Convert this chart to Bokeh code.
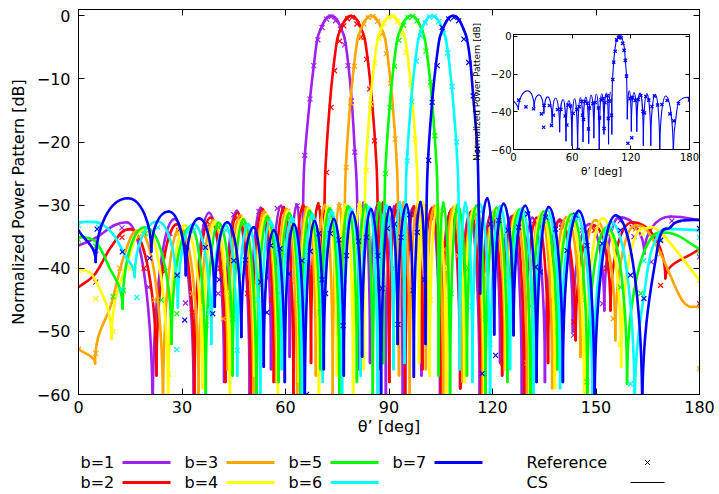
from bokeh.plotting import figure
from bokeh.models import Range1d, LinearAxis, FixedTicker, ColumnDataSource, CustomJSTickFormatter
from bokeh.layouts import column
from bokeh.embed import file_html
from bokeh.resources import INLINE
from bokeh.core.properties import value

# ---------------- data ----------------
x_ticks = [0, 30, 60, 90, 120, 150, 180]
y_ticks = [-60, -50, -40, -30, -20, -10, 0]
inset_x_ticks = [0, 60, 120, 180]
inset_y_ticks = [-60, -40, -20, 0]

legend_labels = ["b=1", "b=2", "b=3", "b=4", "b=5", "b=6", "b=7"]
colors = ["#a020f0", "#ff0000", "#ffa500", "#ffff00", "#00ff00", "#00ffff", "#0000ff"]

# CS curves: vertices (peaks, nulls and flank points) in degrees / dB
theta_b1 = [0, 5.0, 10.0, 14.0, 21.5, 27.8, 33.4, 37.8, 42.2, 45.9, 49.6, 52.8, 55.8, 58.7, 61.2, 63.3,
            64.7, 65.1, 65.6, 67.1, 68.2, 69.2, 70.2, 71.2, 72.2, 73.2, 74.2, 75.2, 76.2, 77.2, 78.2, 79.2, 80.1, 80.8, 81.2,
            82.6, 84.5, 86.6, 89.1, 91.5, 94.0, 96.8, 99.4, 102.3, 104.8, 107.8, 110.6, 113.4, 116.3, 119.5, 122.2,
            125.5, 128.5, 131.5, 135.2, 139.5, 143.3, 148.1, 152.4, 156.8, 164.0, 171.6, 180]
db_b1 = [-36.4, -35.2, -33.3, -32.7, -64, -32.2, -62, -31.2, -58, -30.9, -61, -30.4, -56, -30.1, -54, -29.9,
         -55, -30.0, -22.2, -13.2, -7.9, -3.7, -2.1, -0.9, -0.2, 0, -0.2, -0.9, -2.1, -3.7, -7.7, -13.5, -21.6, -30.0, -56,
         -29.6, -55, -30.0, -60, -30.2, -63, -30.5, -57, -30.8, -62, -31.0, -59, -31.3, -64, -31.5, -55,
         -31.8, -61, -32.0, -58, -32.3, -50, -33.0, -46.7, -31.9, -37.7, -31.8, -32.4]

theta_b2 = [0, 4.8, 9.6, 15.0, 22.6, 28.6, 33.6, 38.2, 42.6, 46.1, 50.0, 53.3, 56.6, 59.5, 62.3, 65.1, 67.4, 69.5,
            71.0, 71.3, 71.8, 73.0, 74.0, 75.0, 76.0, 77.0, 78.0, 79.0, 80.0, 81.0, 82.0, 83.0, 84.0, 85.0, 86.2, 86.7, 87.0,
            88.2, 90.1, 92.2, 94.7, 97.2, 99.7, 102.5, 105.1, 108.1, 110.7, 113.8, 116.7, 119.7, 122.8, 126.2, 129.2,
            132.8, 136.1, 139.5, 144.1, 149.4, 154.2, 160.5, 170.1, 180]
db_b2 = [-43.0, -40.9, -36.5, -33.8, -57, -33.0, -60, -32.0, -58, -31.2, -63, -30.6, -58, -30.3, -61, -30.0, -55, -29.7,
         -55, -30.0, -22, -13, -7.7, -3.7, -2.1, -0.9, -0.2, 0, -0.2, -0.9, -2.1, -3.7, -7.7, -13, -22, -30.0, -56,
         -29.6, -58, -29.9, -63, -30.2, -56, -30.4, -61, -30.7, -59, -31.0, -64, -31.3, -57, -31.6, -62,
         -32.0, -55, -32.4, -51.4, -33.2, -46.7, -32.7, -41.6, -36.9]

theta_b3 = [0, 4.8, 9.6, 13.5, 17.5, 24.5, 29.4, 34.8, 39.1, 43.2, 47.0, 50.7, 53.8, 57.3, 60.3, 63.4, 66.2, 68.8, 71.4, 73.7, 75.6,
            76.9, 77.2, 77.7, 78.9, 79.9, 80.9, 81.9, 82.9, 83.9, 84.9, 85.9, 86.9, 87.9, 88.9, 89.9, 90.9, 92.1, 92.6, 92.9,
            94.1, 96.0, 98.2, 100.7, 103.2, 105.7, 108.6, 111.3, 114.5, 117.2, 120.4, 123.6, 126.8, 130.1, 134.0, 137.3,
            141.5, 145.5, 149.8, 155.6, 161.5, 167.7, 175.0, 180]
db_b3 = [-52.8, -55.1, -45.5, -37.5, -34.0, -63, -33.5, -61, -32.4, -56, -31.6, -62, -31.0, -58, -30.6, -64, -30.3, -57, -30.0, -60, -29.7,
         -55, -30.0, -22, -13, -7.7, -3.7, -2.1, -0.9, -0.2, 0, -0.2, -0.9, -2.1, -3.7, -7.7, -13, -22, -30.0, -57,
         -29.6, -60, -29.9, -56, -30.1, -63, -30.3, -58, -30.6, -61, -30.9, -56, -31.2, -64, -31.5, -59,
         -31.9, -54, -32.4, -51.4, -33.2, -36.6, -45.1, -46.2]

theta_b4 = [0, 4.8, 9.6, 14.5, 19.5, 26.0, 30.8, 35.9, 39.6, 43.9, 47.5, 51.0, 54.4, 57.8, 60.6, 63.9, 66.7, 69.7, 72.3, 74.9, 77.4, 79.6, 81.5,
            82.7, 83.0, 83.5, 84.7, 85.7, 86.7, 87.7, 88.7, 89.7, 90.7, 91.7, 92.7, 93.7, 94.7, 95.7, 96.7, 97.9, 98.4, 98.7,
            99.9, 101.8, 104.0, 106.6, 109.2, 111.8, 114.8, 117.6, 120.9, 123.9, 127.3, 130.8, 134.3, 138.1, 142.6, 146.6,
            151.9, 157.3, 163.5, 168.7, 180]
db_b4 = [-40.0, -41.8, -51.2, -38.5, -33.8, -62, -33.2, -59, -32.6, -63, -32.0, -57, -31.4, -62, -30.9, -58, -30.5, -64, -30.2, -57, -29.9, -60, -29.6,
         -56, -30.0, -22, -13, -7.7, -3.7, -2.1, -0.9, -0.2, 0, -0.2, -0.9, -2.1, -3.7, -7.7, -13, -22, -30.0, -55,
         -29.6, -57, -29.9, -62, -30.1, -58, -30.4, -63, -30.6, -56, -30.9, -61, -31.2, -59, -31.6, -64,
         -32.1, -55.6, -33.7, -34.3, -41.9]

theta_b5 = [0, 4.8, 8.6, 12.8, 19.3, 27.0, 32.6, 36.9, 40.6, 44.7, 47.8, 51.6, 54.8, 58.0, 61.1, 64.3, 67.0, 70.1, 72.8, 75.6, 78.2, 80.7, 83.2, 85.3, 87.2,
            88.4, 88.7, 89.2, 90.4, 91.4, 92.4, 93.4, 94.4, 95.4, 96.4, 97.4, 98.4, 99.4, 100.4, 101.4, 102.4, 103.6, 104.1, 104.4,
            105.7, 107.7, 109.9, 112.6, 115.3, 118.0, 121.2, 124.3, 127.8, 131.0, 134.8, 138.8, 143.0, 147.5, 153.2, 159.0, 168.7, 180]
db_b5 = [-35.0, -35.7, -39.5, -46.4, -33.5, -52, -33.4, -60, -32.8, -57, -32.3, -63, -31.8, -58, -31.3, -62, -30.9, -56, -30.5, -61, -30.2, -58, -29.9, -63, -29.6,
         -55, -30.0, -22, -13, -7.7, -3.7, -2.1, -0.9, -0.2, 0, -0.2, -0.9, -2.1, -3.7, -7.7, -13, -22, -30.0, -57,
         -29.6, -62, -29.9, -57, -30.1, -61, -30.4, -58, -30.7, -64, -31.0, -56, -31.4, -60, -33.5, -58.3, -34.3, -36.9]

theta_b6 = [0, 5.8, 10.0, 13.5, 16.3, 23.0, 28.8, 33.4, 38.5, 42.7, 46.0, 49.2, 52.7, 55.5, 58.9, 61.9, 64.8, 67.8, 70.8, 73.4, 76.4, 79.0, 81.8, 84.3, 86.7, 89.2, 91.3, 93.2,
            94.5, 94.8, 95.3, 96.5, 97.5, 98.5, 99.5, 100.5, 101.5, 102.5, 103.5, 104.5, 105.5, 106.5, 107.5, 108.5, 109.7, 110.2, 110.5,
            112.1, 114.2, 116.5, 119.3, 122.2, 125.1, 128.6, 131.9, 135.9, 139.6, 144.2, 149.0, 154.4, 161.2, 164.5, 167.7, 172.0, 180]
db_b6 = [-32.7, -32.8, -34.6, -38.0, -41.4, -32.6, -46.2, -33.0, -52, -33.2, -57, -33.0, -61, -32.5, -56, -32.0, -63, -31.5, -58, -31.0, -62, -30.6, -57, -30.3, -61, -30.0, -56, -29.6,
         -55, -30.0, -22, -13, -7.7, -3.7, -2.1, -0.9, -0.2, 0, -0.2, -0.9, -2.1, -3.7, -7.7, -13, -22, -30.0, -56,
         -29.6, -58, -29.9, -63, -30.2, -56, -30.5, -61, -30.8, -59, -31.3, -64, -32.7, -63, -42, -35.0, -33.8, -34.0]

theta_b7 = [0, 5.0, 14.3, 21.1, 26.1, 31.1, 35.0, 39.5, 43.1, 47.2, 50.8, 53.7, 56.6, 59.8, 62.4, 65.6, 68.4, 71.1, 74.0, 76.9,
            79.3, 82.2, 84.8, 87.7, 90.2, 92.5, 95.1, 97.2, 99.1, 100.6,
            100.9, 101.4, 102.6, 103.6, 104.6, 105.6, 106.6, 107.6, 108.6, 109.6, 110.6, 111.6, 112.6, 113.6, 114.4, 115.6, 116.0, 116.4,
            118.5, 120.5, 123.2, 126.1, 129.5, 132.8, 136.3, 140.4, 145.0, 149.6, 155.7, 163.4, 167.7, 171.6, 174.5, 180]
db_b7 = [-34.0, -39.0, -28.9, -37.4, -31.0, -41.1, -32.1, -46.1, -32.7, -50.9, -33.5, -55.6, -34.0, -58.0, -33.0, -63, -32.5, -56, -32.2, -57,
         -31.1, -54, -30.6, -63, -30.3, -52, -29.9, -57.2, -29.5, -52,
         -30.0, -22, -13, -7.7, -3.7, -2.1, -0.9, -0.2, 0, -0.2, -0.9, -2.1, -3.7, -7.4, -12.7, -21, -30.0, -44,
         -28.9, -50.5, -29.8, -50.6, -30.1, -58, -30.3, -58, -30.9, -63, -31.6, -63, -37.2, -33.5, -32.5, -32.3]

# Reference solution (x markers)
ref_theta_b1 = [5.0, 12.6, 20.3, 26.5, 31.0, 36.5, 40.5, 45.0, 48.5, 52.3, 55.0, 57.6, 60.5, 63.4, 64.6,
                65.6, 67.1, 68.2, 69.4, 70.6, 71.9, 73.2, 74.5, 75.9, 77.1, 78.1, 79.1, 80.1,
                82.3, 85.5, 88.0, 91.5, 95.0, 97.0, 101.0, 103.0, 106.0, 108.0, 112.0, 114.0, 117.5, 120.0, 124.0, 126.0,
                130.0, 132.0, 137.0, 140.0, 143.5, 146.0, 151.9, 157.0, 161.0, 166.0, 172.0, 180.0]
ref_db_b1 = [-37.2, -33.6, -43.0, -34.5, -45.5, -33.5, -44.0, -31.5, -40.0, -31.0, -41.5, -30.5, -38.0, -30.1, -36.0,
             -22.1, -13.2, -7.9, -3.8, -1.85, -0.53, -0.16, -0.79, -2.1, -4.6, -7.9, -13.5, -21.6,
             -31.0, -37.0, -33.0, -31.0, -40.0, -31.5, -36.0, -32.0, -45.0, -31.5, -38.0, -32.0, -48.0, -32.0, -35.0, -33.0,
             -44.0, -33.0, -36.0, -33.0, -50.6, -34.0, -45.6, -32.5, -35.0, -39.0, -32.5, -38.2]

ref_theta_b2 = [5.0, 12.6, 19.0, 25.0, 29.0, 33.0, 38.0, 41.0, 46.0, 49.0, 53.5, 56.0, 59.6, 63.0, 65.3, 68.0, 69.6,
                71.9, 73.2, 74.2, 75.7, 76.9, 78.0, 79.3, 80.7, 81.9, 83.5, 84.4, 85.8,
                88.5, 91.0, 92.4, 96.0, 97.5, 101.0, 102.8, 106.0, 108.0, 112.0, 114.0, 117.0, 120.0, 123.0, 126.5,
                131.0, 133.0, 137.0, 140.0, 143.5, 149.5, 153.0, 160.5, 168.7, 180.0]
ref_db_b2 = [-42.2, -35.1, -40.0, -40.5, -34.0, -47.0, -33.0, -40.0, -32.0, -44.0, -31.5, -45.0, -31.0, -42.0, -30.6, -40.0, -30.5,
             -24.8, -14.5, -8.7, -4.0, -1.6, -0.5, -0.26, -1.3, -3.4, -6.9, -11.6, -19.8,
             -31.0, -40.0, -31.0, -37.0, -31.5, -45.0, -31.5, -36.0, -31.5, -43.0, -32.0, -38.0, -32.0, -55.0, -32.5,
             -40.0, -33.0, -45.0, -33.5, -48.5, -34.0, -40.0, -33.5, -42.7, -45.6]

ref_theta_b3 = [0.0, 5.0, 12.0, 17.5, 22.0, 29.0, 33.0, 39.0, 42.0, 47.0, 52.0, 53.8, 59.0, 60.5, 64.0, 66.2, 70.0, 71.5, 75.6,
                77.6, 78.9, 80.0, 81.4, 82.7, 84.0, 85.3, 86.6, 87.9, 89.2, 90.5, 91.8,
                94.0, 97.0, 98.3, 101.0, 103.3, 106.0, 108.5, 110.0, 114.5, 118.0, 120.5, 124.0, 127.0, 130.0, 134.0,
                138.0, 141.5, 146.0, 150.0, 155.0, 161.5, 168.7, 180.0]
ref_db_b3 = [-52.8, -53.5, -40.0, -35.0, -45.0, -34.5, -44.0, -33.0, -48.0, -32.5, -42.0, -31.5, -38.0, -31.0, -44.0, -30.8, -42.0, -30.5, -30.2,
             -24.0, -13.8, -8.0, -3.4, -1.3, -0.3, -0.1, -0.9, -2.9, -6.0, -10.7, -19.5,
             -31.0, -43.0, -31.0, -40.0, -31.0, -37.0, -31.5, -38.0, -32.0, -45.0, -32.0, -40.0, -32.5, -55.0, -33.0,
             -44.0, -33.0, -45.0, -34.0, -48.0, -33.8, -37.7, -55.9]

ref_theta_b4 = [0.0, 5.0, 10.0, 15.0, 19.5, 26.1, 31.0, 36.0, 39.5, 44.0, 47.5, 51.0, 54.4, 58.0, 60.6, 64.0, 66.7, 70.0, 72.3, 75.0, 77.4, 81.5,
                83.4, 84.7, 85.9, 87.2, 88.5, 89.8, 91.1, 92.4, 93.7, 95.0, 96.3, 97.6,
                100.0, 102.0, 104.0, 107.0, 109.2, 112.0, 114.8, 117.6, 121.0, 124.0, 127.3, 131.0, 134.4, 138.0,
                142.6, 146.6, 152.0, 157.0, 163.5, 169.0, 180.0]
ref_db_b4 = [-40.4, -44.8, -50.0, -40.0, -34.5, -56.8, -34.0, -46.0, -33.0, -44.0, -32.5, -46.0, -32.0, -40.0, -31.5, -48.0, -31.0, -40.0, -30.8, -44.0, -30.5, -30.2,
             -24.5, -14.0, -7.5, -3.6, -1.2, -0.2, -0.1, -0.9, -2.9, -5.8, -10.8, -19.5,
             -31.0, -45.0, -31.0, -40.0, -31.0, -48.0, -31.5, -41.0, -31.5, -47.0, -32.0, -42.0, -32.5, -46.0,
             -33.0, -49.0, -34.0, -52.0, -34.5, -35.5, -41.9]

ref_theta_b5 = [0.0, 5.0, 10.0, 13.0, 19.3, 24.0, 28.5, 32.6, 37.0, 40.6, 44.7, 47.8, 52.0, 54.8, 58.0, 61.1, 64.0, 67.0, 70.0, 72.8, 76.0, 78.2, 81.0, 83.2, 87.2,
                89.0, 90.3, 91.6, 92.9, 94.2, 95.5, 96.8, 98.1, 99.4, 100.7, 102.0, 103.3,
                105.7, 108.0, 110.0, 113.0, 115.3, 118.0, 121.2, 124.0, 127.8, 131.0, 134.8, 139.0, 143.0, 147.4,
                153.2, 157.1, 163.0, 168.7, 180.0]
ref_db_b5 = [-35.5, -36.5, -44.5, -43.5, -34.5, -45.0, -47.2, -34.0, -49.0, -33.5, -48.0, -33.0, -42.0, -32.3, -44.0, -32.0, -45.0, -31.5, -47.0, -31.0, -40.0, -30.6, -44.0, -30.3, -30.0,
             -25.0, -14.5, -8.0, -3.9, -1.5, -0.3, -0.1, -0.8, -2.6, -5.6, -10.5, -19.0,
             -31.0, -44.0, -31.0, -40.0, -31.5, -48.0, -31.5, -42.0, -32.0, -46.0, -32.5, -50.0, -33.0, -58.0,
             -34.5, -43.0, -44.0, -35.5, -37.4]

ref_theta_b6 = [0.0, 5.8, 12.4, 16.9, 23.0, 28.5, 33.4, 38.0, 42.7, 46.0, 49.0, 52.0, 55.5, 59.0, 62.0, 65.0, 67.8, 71.0, 73.4, 76.4, 79.0, 82.0, 84.3, 87.0, 89.2, 93.2,
                95.3, 96.6, 97.9, 99.2, 100.5, 101.8, 103.1, 104.4, 105.7, 107.0, 108.3, 109.6,
                112.1, 114.0, 116.5, 119.3, 122.2, 125.0, 128.6, 132.0, 135.9, 140.0, 144.2, 148.9, 154.4, 160.0,
                163.9, 168.0, 180.0]
ref_db_b6 = [-33.2, -33.5, -43.4, -44.6, -33.5, -52.9, -34.0, -47.0, -34.0, -53.0, -33.5, -45.0, -33.0, -50.0, -32.5, -44.0, -32.0, -46.0, -31.5, -49.0, -31.0, -44.0, -30.8, -42.0, -30.5, -30.2,
             -23.0, -13.6, -7.2, -3.2, -1.1, -0.2, -0.1, -0.9, -2.8, -5.9, -11.2, -20.0,
             -31.0, -46.0, -31.0, -52.0, -31.5, -42.0, -31.5, -48.0, -32.0, -45.0, -32.0, -50.0, -33.5, -58.3,
             -38.8, -35.0, -35.1]

ref_theta_b7 = [5.4, 12.7, 20.6, 28.6, 30.8, 31.3, 36.8, 38.9, 40.8, 45.0, 48.4, 52.8, 54.6, 55.7, 58.4, 61.0, 64.8, 66.1, 67.2,
                69.7, 70.6, 71.6, 73.0, 75.5, 76.7, 77.7, 81.2, 83.5, 86.8, 88.0, 89.5, 91.6, 92.6, 93.5, 96.0, 97.0, 98.2, 100.3,
                101.5, 102.5, 104.0, 105.4, 107.3, 108.8, 110.2, 111.7, 113.1, 114.4, 115.6,
                117.0, 119.4, 120.9, 121.8, 124.5, 127.6, 130.2, 132.5, 133.9, 135.4, 138.3, 141.6, 144.1, 147.4,
                151.8, 157.1, 160.0, 163.9, 168.7, 180.0]
ref_db_b7 = [-33.8, -37.4, -38.4, -41.1, -48.2, -36.6, -36.7, -47.2, -41.8, -38.8, -38.7, -42.2, -47.0, -36.4, -36.9, -40.9, -38.8, -60.0, -37.3,
             -34.5, -41.8, -44.0, -34.5, -35.5, -49.1, -38.0, -35.7, -35.1, -38.0, -43.2, -33.7, -33.0, -48.9, -35.1, -31.5, -43.5, -34.3, -41.8,
             -22.9, -13.7, -7.9, -1.85, -0.5, -0.26, -0.79, -3.7, -7.4, -12.7, -21.1,
             -56.7, -33.0, -53.8, -32.4, -34.0, -33.5, -31.4, -39.8, -40.6, -31.9, -33.8, -37.2, -31.6, -36.4,
             -36.1, -34.0, -41.1, -44.8, -35.6, -33.7]

curves = [
    (theta_b1, db_b1, ref_theta_b1, ref_db_b1),
    (theta_b2, db_b2, ref_theta_b2, ref_db_b2),
    (theta_b3, db_b3, ref_theta_b3, ref_db_b3),
    (theta_b4, db_b4, ref_theta_b4, ref_db_b4),
    (theta_b5, db_b5, ref_theta_b5, ref_db_b5),
    (theta_b6, db_b6, ref_theta_b6, ref_db_b6),
    (theta_b7, db_b7, ref_theta_b7, ref_db_b7),
]

FONT = "DejaVu Sans"
K = 0.55  # tangent handle length for lobe tops / nulls


def bezier_columns(xs, ys):
    """Smooth rendering of the vertex polyline: peaks get horizontal, nulls vertical tangents."""
    n = len(xs)
    kinds = []
    for i in range(n):
        k = "plain"
        if 0 < i < n - 1:
            if ys[i] > ys[i - 1] and ys[i] > ys[i + 1]:
                k = "peak"
            elif ys[i] < ys[i - 1] and ys[i] < ys[i + 1]:
                k = "null"
        kinds.append(k)

    def pt(i):
        if i < 0:
            return 2 * xs[0] - xs[1], 2 * ys[0] - ys[1]
        if i > n - 1:
            return 2 * xs[-1] - xs[-2], 2 * ys[-1] - ys[-2]
        return xs[i], ys[i]

    cols = {key: [] for key in ("x0", "y0", "x1", "y1", "cx0", "cy0", "cx1", "cy1")}
    for i in range(n - 1):
        j = i + 1
        if kinds[i] == "peak":
            c0 = (xs[i] + K * (xs[j] - xs[i]), ys[i])
        elif kinds[i] == "null":
            c0 = (xs[i], ys[i] + K * (ys[j] - ys[i]))
        else:
            a, b = pt(i - 1), pt(j)
            c0 = (xs[i] + (b[0] - a[0]) / 6.0, ys[i] + (b[1] - a[1]) / 6.0)
        if kinds[j] == "peak":
            c1 = (xs[j] - K * (xs[j] - xs[i]), ys[j])
        elif kinds[j] == "null":
            c1 = (xs[j], ys[j] + K * (ys[i] - ys[j]))
        else:
            a, b = pt(i), pt(j + 1)
            c1 = (xs[j] - (b[0] - a[0]) / 6.0, ys[j] - (b[1] - a[1]) / 6.0)
        cols["x0"].append(xs[i]); cols["y0"].append(ys[i])
        cols["x1"].append(xs[j]); cols["y1"].append(ys[j])
        cols["cx0"].append(c0[0]); cols["cy0"].append(c0[1])
        cols["cx1"].append(c1[0]); cols["cy1"].append(c1[1])
    return cols


def style_axis(ax, ticks, size, tick_len, standoff, blank=False, label_size=None, label_standoff=5):
    ax.ticker = FixedTicker(ticks=ticks)
    ax.major_tick_in = tick_len
    ax.major_tick_out = 0
    ax.minor_tick_line_color = None
    ax.axis_line_color = "black"
    ax.major_tick_line_color = "black"
    ax.major_label_text_font = FONT
    ax.major_label_text_font_size = size
    ax.major_label_text_color = "black"
    ax.major_label_standoff = standoff
    ax.axis_label_text_font = FONT
    ax.axis_label_text_font_style = "normal"
    ax.axis_label_text_color = "black"
    ax.axis_label_text_font_size = label_size or size
    ax.axis_label_standoff = label_standoff
    if blank:
        ax.formatter = CustomJSTickFormatter(code="return ''")
        ax.major_label_text_font_size = "1px"
        ax.major_label_standoff = 0


# layout constants (pixels); the column aligns every plot frame to the main one
MAIN_H = 444
BORDER_L, BORDER_R = 78, 20

# ---------------- main plot ----------------
p = figure(width=719, height=MAIN_H, x_range=Range1d(0, 180), y_range=Range1d(-60, 1),
           output_backend="svg", toolbar_location=None,
           min_border_left=BORDER_L, min_border_right=BORDER_R, min_border_top=9, min_border_bottom=50)
p.grid.visible = False
p.outline_line_color = "black"
p.background_fill_color = "white"
p.xaxis.axis_label = "θ’ [deg]"
p.yaxis.axis_label = "Normalized Power Pattern [dB]"
style_axis(p.xaxis[0], x_ticks, "16px", 6, 6, label_standoff=1)
style_axis(p.yaxis[0], y_ticks, "16px", 6, 8, label_standoff=6)
top_ax = LinearAxis()
right_ax = LinearAxis()
p.add_layout(top_ax, "above")
p.add_layout(right_ax, "right")
style_axis(top_ax, x_ticks, "1px", 6, 0, blank=True)
style_axis(right_ax, y_ticks, "1px", 6, 0, blank=True)

for (th, db, rth, rdb), col in zip(curves, colors):
    src = ColumnDataSource(bezier_columns(th, db))
    p.bezier(x0="x0", y0="y0", x1="x1", y1="y1", cx0="cx0", cy0="cy0", cx1="cx1", cy1="cy1",
             source=src, line_color=col, line_width=2.6, line_cap="round")
    p.scatter(rth, rdb, marker="x", size=7, line_color=col, line_width=1.2)

# ---------------- inset (b=7) ----------------
# inset frame wanted at x 513..689, y 34..149 of the page
INS_TOP = 10
INS_FRAME_L, INS_FRAME_W = 513, 176
INS_LEFT = INS_FRAME_L - BORDER_L
INS_W = BORDER_L + INS_FRAME_W + BORDER_R
INS_H = 170
ins = figure(width=INS_W, height=INS_H, x_range=Range1d(0, 180), y_range=Range1d(-60, 1),
             output_backend="svg", toolbar_location=None,
             min_border_left=BORDER_L, min_border_right=BORDER_R, min_border_top=24, min_border_bottom=31)
ins.grid.visible = False
ins.outline_line_color = "black"
ins.background_fill_color = "white"
ins.border_fill_alpha = 0
ins.xaxis.axis_label = "θ’ [deg]"
ins.yaxis.axis_label = "Normalized Power Pattern [dB]"
style_axis(ins.xaxis[0], inset_x_ticks, "10px", 4, 3, label_size="10.5px", label_standoff=1)
style_axis(ins.yaxis[0], inset_y_ticks, "10px", 4, 2, label_size="9px", label_standoff=5)
ins_top = LinearAxis()
ins_right = LinearAxis()
ins.add_layout(ins_top, "above")
ins.add_layout(ins_right, "right")
style_axis(ins_top, inset_x_ticks, "1px", 4, 0, blank=True)
style_axis(ins_right, inset_y_ticks, "1px", 4, 0, blank=True)
ins_src = ColumnDataSource(bezier_columns(theta_b7, db_b7))
ins.bezier(x0="x0", y0="y0", x1="x1", y1="y1", cx0="cx0", cy0="cy0", cx1="cx1", cy1="cy1",
           source=ins_src, line_color=colors[6], line_width=1.1)
ins.scatter(ref_theta_b7, ref_db_b7, marker="x", size=4.5, line_color=colors[6], line_width=1.3)
ins.margin = (INS_TOP - MAIN_H, 0, MAIN_H - INS_TOP - INS_H, INS_LEFT)

# ---------------- legend strip (x range = page pixels of the aligned frame) ----------------
LEG_H = 50
leg = figure(width=719, height=LEG_H, x_range=Range1d(BORDER_L, 719 - BORDER_R), y_range=Range1d(LEG_H, 0),
             output_backend="svg", toolbar_location=None, x_axis_type=None, y_axis_type=None,
             min_border_left=BORDER_L, min_border_right=BORDER_R, min_border_top=0, min_border_bottom=0)
leg.grid.visible = False
leg.outline_line_color = None
leg.background_fill_alpha = 0
col_text_x = [80, 184, 288, 392]
row_y = [18, 38]
seg_len, seg_gap = 48, 42
tx, ty, sx0, sx1, sy = [], [], [], [], []
for k, lab in enumerate(legend_labels):
    c, r = k // 2, k % 2
    tx.append(col_text_x[c]); ty.append(row_y[r])
    sx0.append(col_text_x[c] + seg_gap); sx1.append(col_text_x[c] + seg_gap + seg_len); sy.append(row_y[r])
leg.text(x=tx, y=ty, text=legend_labels, text_font=value(FONT), text_font_size="16px",
         text_baseline="middle", text_align="left", text_color="black")
leg.segment(x0=sx0, y0=sy, x1=sx1, y1=sy, line_color=colors, line_width=3)
leg.text(x=[526, 526], y=row_y, text=["Reference", "CS"], text_font=value(FONT), text_font_size="16px",
         text_baseline="middle", text_align="left", text_color="black")
leg.scatter([647], [row_y[0]], marker="x", size=7, line_color="black", line_width=1)
leg.segment(x0=[630], y0=[row_y[1]], x1=[664], y1=[row_y[1]], line_color="black", line_width=1)

layout = column(p, ins, leg)
open("out.html", "w").write(file_html(layout, INLINE))
